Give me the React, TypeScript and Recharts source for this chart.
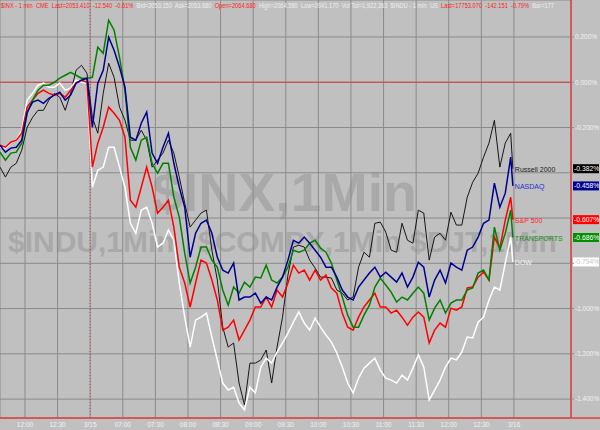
import React from 'react';
import { LineChart, Line, XAxis, YAxis, CartesianGrid, ReferenceLine, LabelList } from 'recharts';

// minutes since 11:37 of the previous session (session break compressed at 3/15)
const minutes = [0,5,10,15,20,25,30,35,40,45,50,55,60,65,70,75,80,85,90,95,100,105,110,115,120,125,130,135,140,145,150,155,160,165,170,175,180,185,190,195,200,205,210,215,220,225,230,235,240,245,250,255,260,265,270,275,280,285,290,295,300,305,310,315,320,325,330,335,340,345,350,355,360,365,370,375,380,385,390,395,400,405,410,415,420,425,430,435,440,445,450,455,460,465,470,472];

const russell2000 = [-0.375,-0.419,-0.375,-0.358,-0.300,-0.199,-0.155,-0.124,-0.124,-0.079,
-0.049,-0.066,-0.124,-0.049,0.053,0.075,0.040,-0.155,-0.225,-0.049,
0.084,0.022,-0.110,-0.168,-0.256,-0.256,-0.212,-0.256,-0.375,-0.344,
-0.313,-0.256,-0.313,-0.419,-0.534,-0.640,-0.609,-0.578,-0.565,-0.742,
-0.874,-1.082,-1.170,-1.152,-1.329,-1.426,-1.241,-1.241,-1.227,-1.183,
-1.329,-1.170,-1.038,-0.852,-0.728,-0.720,-0.728,-0.786,-0.821,-0.861,
-0.861,-0.865,-0.918,-0.932,-0.962,-0.949,-0.817,-0.751,-0.773,-0.623,
-0.618,-0.662,-0.742,-0.751,-0.623,-0.698,-0.711,-0.565,-0.578,-0.786,
-0.684,-0.667,-0.698,-0.574,-0.631,-0.631,-0.508,-0.442,-0.402,-0.331,
-0.269,-0.168,-0.375,-0.269,-0.225,-0.382];

const nasdaq = [-0.278,-0.309,-0.291,-0.287,-0.256,-0.132,-0.088,-0.079,-0.093,-0.071,
-0.057,-0.044,-0.079,-0.057,-0.004,0.009,0.018,-0.199,-0.004,0.053,
0.199,0.141,0.066,-0.022,-0.243,-0.256,-0.181,-0.132,-0.313,-0.358,
-0.287,-0.225,-0.358,-0.464,-0.552,-0.773,-0.667,-0.623,-0.609,-0.667,
-0.773,-0.830,-0.843,-0.799,-0.962,-0.949,-0.949,-0.932,-0.976,-0.949,
-0.962,-0.905,-0.861,-0.786,-0.698,-0.711,-0.684,-0.711,-0.742,-0.773,
-0.817,-0.817,-0.861,-0.918,-0.949,-0.962,-0.905,-0.874,-0.843,-0.817,
-0.861,-0.839,-0.861,-0.883,-0.843,-0.905,-0.861,-0.795,-0.817,-0.949,
-0.874,-0.830,-0.887,-0.799,-0.817,-0.830,-0.742,-0.728,-0.684,-0.623,
-0.609,-0.446,-0.552,-0.490,-0.331,-0.458];

const sp500 = [-0.278,-0.287,-0.265,-0.256,-0.225,-0.110,-0.079,-0.049,-0.035,-0.049,
-0.057,-0.049,-0.066,-0.035,-0.004,0.009,0.000,-0.375,-0.269,-0.199,
-0.110,-0.137,-0.168,-0.243,-0.521,-0.552,-0.464,-0.375,-0.464,-0.578,
-0.552,-0.521,-0.640,-0.817,-0.887,-0.993,-0.887,-0.786,-0.799,-0.874,
-0.962,-1.095,-1.082,-1.051,-1.139,-1.095,-1.051,-0.993,-0.993,-0.949,
-0.993,-0.918,-0.949,-0.887,-0.808,-0.843,-0.830,-0.874,-0.830,-0.874,
-0.852,-0.909,-0.932,-1.020,-1.082,-1.095,-1.038,-0.993,-0.962,-0.932,
-0.993,-0.993,-1.020,-1.007,-1.038,-1.073,-1.038,-1.015,-1.038,-1.152,
-1.095,-1.064,-1.082,-0.998,-1.007,-0.993,-0.909,-0.905,-0.861,-0.839,
-0.874,-0.684,-0.733,-0.609,-0.508,-0.607];

const transports = [-0.309,-0.344,-0.313,-0.309,-0.269,-0.137,-0.079,-0.035,-0.013,-0.013,
0.000,0.018,0.031,0.044,0.031,0.018,0.018,0.022,0.155,0.128,
0.274,0.230,0.110,-0.035,-0.287,-0.344,-0.256,-0.243,-0.358,-0.402,
-0.358,-0.358,-0.508,-0.596,-0.755,-0.887,-0.817,-0.728,-0.728,-0.786,
-0.817,-0.918,-0.985,-0.905,-0.932,-0.883,-0.905,-0.861,-0.865,-0.808,
-0.874,-0.887,-0.861,-0.817,-0.742,-0.751,-0.742,-0.711,-0.698,-0.733,
-0.751,-0.799,-0.874,-0.949,-1.029,-1.082,-1.082,-1.029,-0.985,-0.905,
-0.865,-0.896,-0.927,-0.971,-0.949,-0.962,-0.932,-0.905,-0.932,-1.051,
-0.998,-0.962,-1.020,-0.976,-0.962,-0.962,-0.918,-0.909,-0.843,-0.830,
-0.874,-0.640,-0.742,-0.667,-0.565,-0.686];

const dow = [-0.287,-0.291,-0.269,-0.256,-0.212,-0.079,-0.049,-0.013,-0.004,-0.022,
-0.022,-0.004,-0.035,-0.026,0.009,0.000,-0.004,-0.464,-0.389,-0.375,
-0.287,-0.287,-0.375,-0.464,-0.623,-0.667,-0.565,-0.552,-0.623,-0.728,
-0.711,-0.653,-0.698,-0.887,-1.038,-1.170,-1.051,-1.038,-1.020,-1.126,
-1.227,-1.329,-1.360,-1.347,-1.417,-1.448,-1.347,-1.373,-1.258,-1.219,
-1.241,-1.192,-1.152,-1.108,-1.060,-1.015,-1.064,-1.095,-1.042,-1.082,
-1.117,-1.148,-1.196,-1.258,-1.329,-1.373,-1.307,-1.263,-1.241,-1.219,
-1.272,-1.307,-1.316,-1.329,-1.294,-1.316,-1.263,-1.205,-1.258,-1.404,
-1.360,-1.316,-1.258,-1.219,-1.227,-1.192,-1.126,-1.130,-1.060,-1.038,
-0.962,-0.905,-0.918,-0.799,-0.684,-0.794];

const tickMinutes = [23,53,83,113,143,173,203,233,263,293,323,353,383,413,443,473];
const tickLabels = ['12:00','12:30','3/15','07:00','07:30','08:00','08:30','09:00','09:30','10:00','10:30','11:00','11:30','12:00','12:30','3/16'];
const yTicks = [0.2,0,-0.2,-0.4,-0.6,-0.8,-1.0,-1.2,-1.4];
const sessionBreak = 83;

const series = [
  { key: 'rut', name: 'Russell 2000', values: russell2000, color: '#161616', width: 1, label: '#202020', box: '#000000', boxText: '#ffffff' },
  { key: 'dow', name: 'DOW', values: dow, color: '#ffffff', width: 1.5, label: '#f4f4f4', box: '#ffffff', boxText: '#c8c8c8' },
  { key: 'spx', name: 'S&P 500', values: sp500, color: '#ff0000', width: 1.5, label: '#ff2020', box: '#ff0000', boxText: '#ffffff' },
  { key: 'djt', name: 'TRANSPORTS', values: transports, color: '#008000', width: 1.5, label: '#208a20', box: '#009000', boxText: '#ffffff' },
  { key: 'ndx', name: 'NASDAQ', values: nasdaq, color: '#000090', width: 1.5, label: '#2a2ad0', box: '#000090', boxText: '#ffffff' },
];

const data = minutes.map((t, i) => {
  const row: Record<string, number> = { t };
  series.forEach((s) => { row[s.key] = s.values[i]; });
  return row;
});

const RED = '#ff2020';
const LIGHT = '#eeeeee';
const header: [string, string][] = [
  ['$INX - 1 min  CME  Last=2053.410  -12.540  -0.61%  ', RED],
  ['Bid=2053.150  Ask=2053.680  ', LIGHT],
  ['Open=2064.680  ', RED],
  ['High=2064.580  Low=2041.170  Vol Tot=1,922,363  $INDU - 1 min  US  ', LIGHT],
  ['Last=17753.070  -142.151  -0.79%  ', RED],
  ['Bar=177', LIGHT],
];

const FONT = '"Liberation Sans", Arial, sans-serif';
const lastIndex = minutes.length - 1;

const nameLabel = (name: string, color: string) => (props: any) => {
  if (props.index !== lastIndex) return null;
  return (
    <text x={props.x + 2} y={props.y + 3} fontSize={7} fill={color} fontFamily={FONT}>{name}</text>
  );
};

const boxLabel = (value: number, fill: string, textColor: string) => (props: any) => {
  const vb = props.viewBox || {};
  const x = (vb.x || 0) + (vb.width || 0) + 2;
  const y = vb.y || 0;
  return (
    <g>
      <rect x={x} y={y - 4.5} width={26} height={9} fill={fill} />
      <text x={x + 1} y={y + 2.5} fontSize={6.8} fill={textColor} fontFamily={FONT}>{value.toFixed(3) + '%'}</text>
    </g>
  );
};

// value labels hidden where a last-value box sits on top of them
const YTick = (props: any) => {
  const v = props.payload.value as number;
  const covered = series.some((s) => Math.abs(s.values[lastIndex] - v) < 0.03);
  if (covered) return null;
  return (
    <text x={props.x} y={props.y} dy="0.355em" textAnchor="start" fontSize={6.5} fill="#f2f2f2" fontFamily={FONT}>
      {v.toFixed(3) + '%'}
    </text>
  );
};

export default function App() {
  return (
    <div style={{ position: 'fixed', left: 0, top: 0, width: 600, height: 430, background: '#c0c0c0', overflow: 'hidden', fontFamily: FONT }}>
      <svg width={600} height={430} style={{ position: 'absolute', left: 0, top: 0 }}>
        <text x={152} y={211} fontSize={54} fontWeight="bold" fill="#a9a9a9" fontFamily={FONT} textLength={265} lengthAdjust="spacingAndGlyphs">$INX,1Min</text>
        <text x={8} y={252} fontSize={30} fontWeight="bold" fill="#a9a9a9" fontFamily={FONT}>$INDU,1Min</text>
        <text x={198} y={252} fontSize={30} fontWeight="bold" fill="#a9a9a9" fontFamily={FONT}>$COMPX,1Min</text>
        <text x={410} y={252} fontSize={30} fontWeight="bold" fill="#a9a9a9" fontFamily={FONT}>$DJT,1Min</text>
      </svg>
      <div style={{ position: 'absolute', left: 0, top: 0 }}>
        <LineChart width={600} height={430} data={data} margin={{ top: 0, right: 0, bottom: 0, left: 0 }} style={{ fontFamily: FONT }}>
          <CartesianGrid stroke="#8a8a8a" strokeWidth={1} />
          <XAxis
            dataKey="t"
            type="number"
            domain={[0, 525.5]}
            allowDataOverflow
            ticks={tickMinutes}
            interval={0}
            tickFormatter={(v: number) => tickLabels[tickMinutes.indexOf(v)] || ''}
            height={12}
            tickSize={2}
            tickMargin={2}
            tickLine={false}
            axisLine={{ stroke: '#e04040', strokeWidth: 1.5 }}
            tick={{ fontSize: 6.5, fill: '#f2f2f2' }}
          />
          <YAxis
            orientation="right"
            type="number"
            domain={[-1.4834, 0.3634]}
            allowDataOverflow
            ticks={yTicks}
            interval={0}
            width={29}
            tickSize={3}
            tickMargin={1}
            axisLine={{ stroke: '#e04040', strokeWidth: 1.5 }}
            tickLine={{ stroke: '#909090' }}
            tick={<YTick />}
          />
          <ReferenceLine y={0} stroke="#e03a3a" strokeWidth={1} />
          <ReferenceLine x={sessionBreak} stroke="#d84040" strokeDasharray="1 2" strokeWidth={1} />
          {series.map((s) => (
            <Line
              key={s.key}
              dataKey={s.key}
              type="linear"
              stroke={s.color}
              strokeWidth={s.width}
              dot={false}
              activeDot={false}
              isAnimationActive={false}
            >
              <LabelList dataKey={s.key} content={nameLabel(s.name, s.label)} />
            </Line>
          ))}
          {series.map((s) => (
            <ReferenceLine
              key={'box-' + s.key}
              y={s.values[lastIndex]}
              stroke="none"
              ifOverflow="visible"
              label={boxLabel(s.values[lastIndex], s.box, s.boxText)}
            />
          ))}
        </LineChart>
      </div>
      <svg width={600} height={430} style={{ position: 'absolute', left: 0, top: 0, pointerEvents: 'none' }}>
        <text x={1} y={7.5} fontSize={6.5} fontFamily={FONT} textLength={553} lengthAdjust="spacingAndGlyphs" style={{ whiteSpace: 'pre' }}>
          {header.map(([txt, c], i) => (
            <tspan key={i} fill={c}>{txt}</tspan>
          ))}
        </text>
        <line x1={571} y1={418} x2={600} y2={418} stroke="#e04040" strokeWidth={1.5} />
      </svg>
    </div>
  );
}
